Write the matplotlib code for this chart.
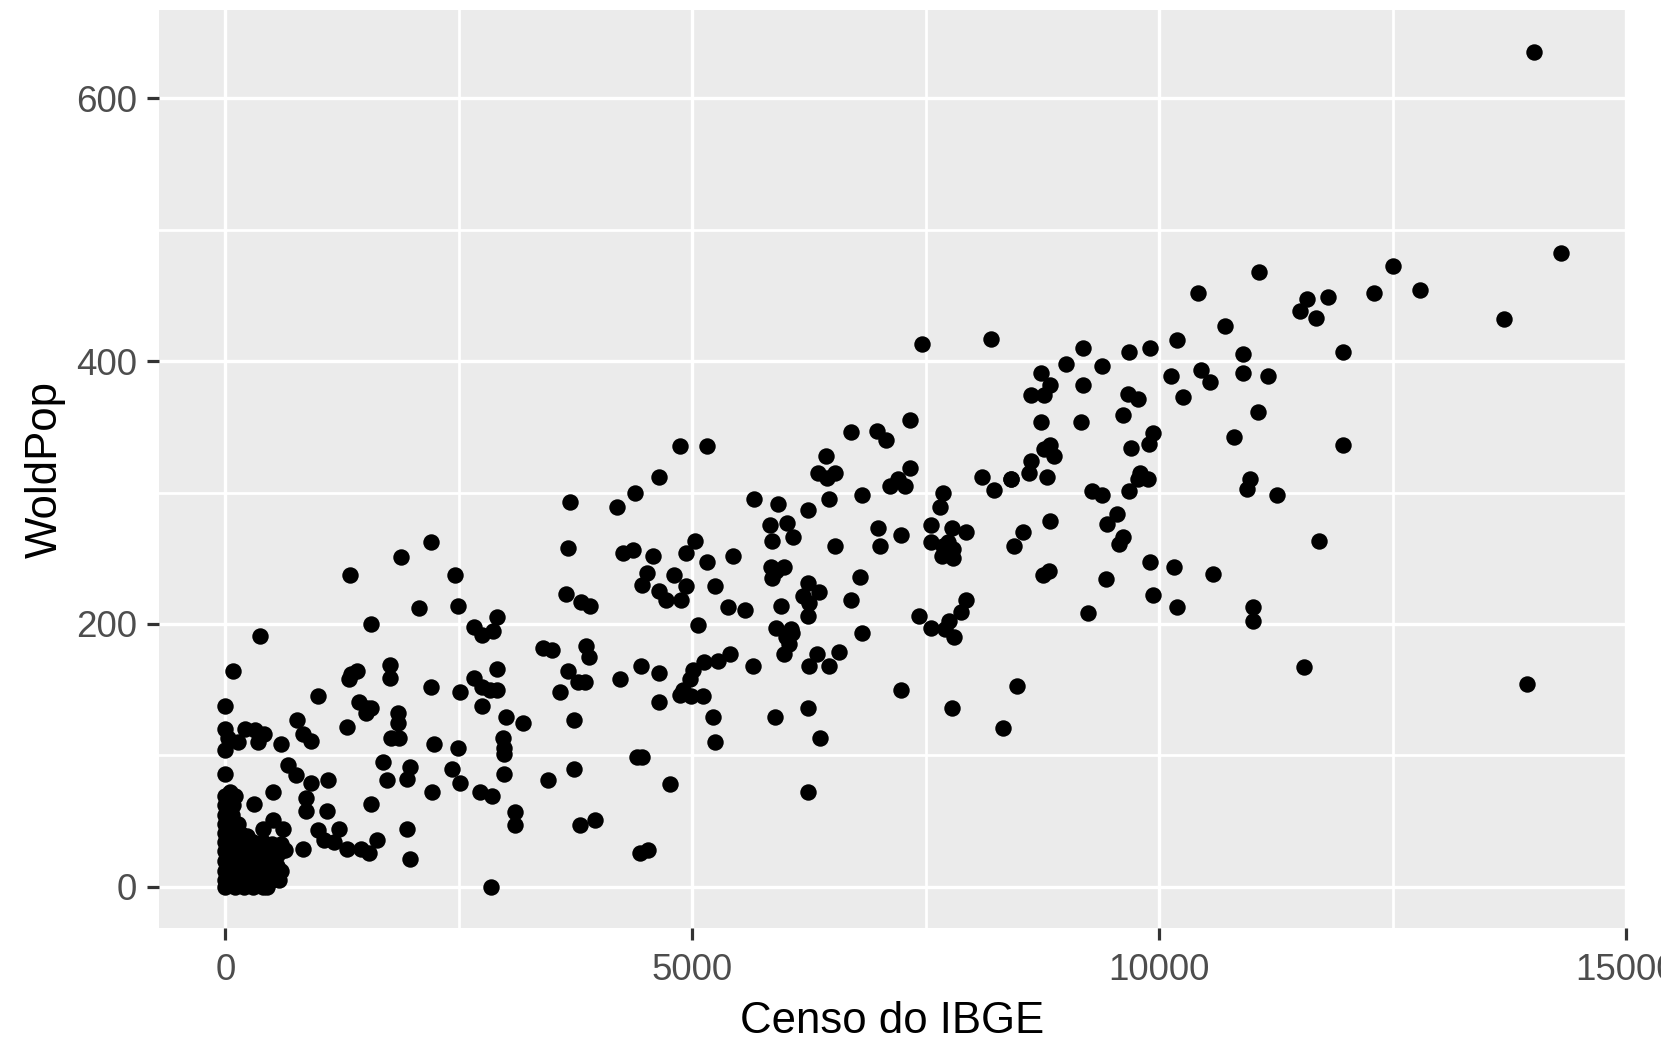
import matplotlib
matplotlib.use("Agg")
import matplotlib.pyplot as plt
import numpy as np

plt.rcParams['font.family'] = ['Liberation Sans', 'DejaVu Sans']

# pontos (Censo do IBGE, WoldPop), por regiao
pts_origem = [
    (0, 0), (100, 0), (200, 0), (300, 0), (400, 0), (450, 0),
    (0, 5), (100, 5), (200, 5), (300, 5), (400, 5), (500, 5), (580, 5),
    (50, 8), (150, 8), (250, 8), (350, 8), (450, 8), (550, 8),
    (0, 12), (100, 12), (200, 12), (300, 12), (400, 12), (500, 12), (600, 12),
    (50, 16), (150, 16), (250, 16), (350, 16), (450, 16), (550, 16),
    (0, 20), (100, 20), (200, 20), (300, 20), (400, 20), (500, 20),
    (50, 24), (150, 24), (250, 24), (350, 24), (450, 24), (550, 24),
    (0, 27), (100, 27), (200, 27), (300, 27), (400, 27), (500, 27), (600, 27), (640, 28),
    (50, 31), (150, 31), (250, 31), (350, 31), (450, 31), (550, 31),
    (0, 34), (100, 34), (200, 34), (300, 34), (400, 34), (500, 33), (600, 33),
    (40, 38), (120, 38), (0, 41), (80, 41), (160, 41), (230, 39),
    (40, 45), (0, 48), (80, 48), (140, 48), (40, 52),
    (0, 55), (70, 55), (40, 59), (0, 62), (80, 62), (40, 66), (0, 69), (100, 69), (50, 72),
    (0, 86), (0, 104), (28, 113), (0, 120), (0, 138), (85, 164),
]

pts_ate_4000 = [
    (3690, 293), (3671, 258), (2203, 262), (1884, 251), (1336, 237), (2463, 237),
    (2076, 212), (2491, 214), (1564, 200), (370, 191), (3646, 223), (3813, 217),
    (3902, 214), (2658, 198), (2747, 192), (2907, 205), (2872, 195), (3405, 182),
    (3494, 180), (3867, 183), (3895, 175), (1350, 162), (1407, 164), (1326, 158),
    (1759, 169), (1759, 159), (2203, 152), (2516, 148), (2658, 159), (2907, 166),
    (2747, 152), (2836, 150), (2907, 150), (2747, 138), (3671, 164), (3778, 156),
    (3849, 156), (3583, 148), (988, 145), (1432, 141), (1521, 136), (1564, 136),
    (1503, 132), (1848, 132), (1848, 125), (3003, 129), (3191, 125), (3735, 127),
    (768, 127), (206, 120), (313, 119), (419, 116), (135, 110), (348, 110),
    (597, 109), (828, 116), (917, 111), (1308, 122), (1770, 113), (1859, 113),
    (2232, 109), (2491, 106), (2978, 113), (2989, 106), (2989, 101), (668, 93),
    (757, 85), (917, 79), (1095, 81), (1692, 95), (1734, 81), (1983, 91),
    (1947, 82), (2427, 90), (2516, 79), (2729, 72), (2854, 69), (2989, 86),
    (3458, 81), (3735, 90), (2214, 72), (3103, 57), (3103, 47), (3796, 47),
    (3956, 51), (508, 72), (306, 63), (864, 68), (864, 58), (1084, 58),
    (1564, 63), (508, 51), (402, 44), (615, 44), (988, 43), (1219, 44),
    (1947, 44), (1059, 36), (1166, 34), (1308, 29), (1450, 29), (1539, 26),
    (1628, 36), (828, 29), (1983, 21), (2847, 0),
]

pts_4000_8000 = [
    (7337, 355), (6699, 346), (6982, 347), (7074, 340), (4865, 335), (5156, 335),
    (6433, 328), (4642, 312), (6348, 315), (6444, 311), (6532, 315), (7337, 319),
    (7206, 310), (7117, 305), (7277, 305), (4387, 300), (4199, 289), (5663, 295),
    (5918, 291), (6238, 287), (6468, 295), (6823, 298), (7684, 300), (7656, 289),
    (5830, 275), (6018, 277), (5858, 263), (6079, 266), (6986, 273), (7235, 268),
    (7011, 259), (6532, 259), (7560, 275), (7780, 273), (7933, 270), (7560, 262),
    (7684, 259), (7791, 257), (7670, 252), (7791, 250), (7720, 255), (7740, 262),
    (4263, 254), (4369, 256), (4582, 252), (5025, 263), (4936, 254), (5156, 247),
    (5440, 252), (4511, 239), (4458, 230), (4801, 237), (4929, 229), (4642, 225),
    (4723, 218), (4883, 218), (5248, 229), (5379, 213), (5567, 211), (5840, 243),
    (5982, 243), (5858, 235), (5900, 240), (6798, 236), (6241, 231), (6355, 224),
    (6184, 221), (6248, 216), (6241, 206), (5954, 214), (6699, 218), (5060, 199),
    (5894, 197), (6071, 193), (6054, 196), (6000, 190), (6036, 185), (5982, 177),
    (6823, 193), (7427, 206), (7560, 197), (7808, 190), (7933, 218), (7880, 209),
    (7755, 202), (7702, 196), (4457, 168), (4645, 163), (4227, 158), (5007, 165),
    (5131, 171), (5280, 172), (5404, 177), (5649, 168), (4972, 158), (4901, 150),
    (4865, 146), (4989, 145), (5120, 145), (4642, 141), (6337, 177), (6568, 179),
    (6248, 168), (6461, 168), (7235, 150), (7780, 136), (5220, 129), (5887, 129),
    (6238, 136), (5248, 110), (6372, 113), (4405, 99), (4458, 99), (4762, 78),
    (6238, 72), (4445, 26), (4526, 28), (7464, 413),
]

pts_acima_8000 = [
    (8103, 312), (8227, 302), (8418, 310), (8198, 417),
    (9188, 410), (9673, 407), (9903, 410), (10190, 416), (10902, 405), (11972, 407),
    (8998, 398), (9386, 396), (8739, 391), (8829, 382), (8631, 374), (8772, 374),
    (9188, 382), (9670, 375), (9770, 371), (10129, 389), (10453, 393), (10550, 384),
    (10902, 391), (11164, 389), (10259, 373), (8739, 354), (9159, 354), (9612, 359),
    (11063, 361), (9932, 345), (9896, 337), (10805, 342), (11972, 336), (8829, 336),
    (8764, 333), (8872, 328), (8631, 324), (8603, 315), (8800, 312), (8414, 310),
    (9702, 334), (9795, 315), (9878, 310), (9770, 310), (9673, 301), (9285, 301),
    (9393, 298), (10973, 310), (10937, 303), (11261, 298), (9544, 284), (9447, 276),
    (9609, 266), (9573, 261), (8836, 278), (8542, 270), (8449, 259), (11710, 263),
    (8818, 240), (8757, 237), (9433, 234), (9903, 247), (10158, 243), (10578, 238),
    (9932, 222), (10190, 213), (9242, 208), (11002, 213), (11002, 202), (11548, 167),
    (8477, 153), (8326, 121),
    (11067, 468), (10420, 452), (11584, 447), (11513, 438), (11681, 433), (11807, 449),
    (12303, 452), (12500, 472), (12795, 454), (10711, 427),
    (14013, 635), (14301, 482), (13693, 432), (13941, 154),
]

x_ticks = [0, 5000, 10000, 15000]
x_labels = ['0', '5000', '10000', '15000']
y_ticks = [0, 200, 400, 600]
y_labels = ['0', '200', '400', '600']

dados = np.array(pts_origem + pts_ate_4000 + pts_4000_8000 + pts_acima_8000, dtype=float)

fig = plt.figure(figsize=(16.61, 10.42), dpi=100)
ax = fig.add_axes([159 / 1661, 1 - 927.7 / 1042, 1467 / 1661, 917.7 / 1042])
ax.set_facecolor('#EBEBEB')

ax.scatter(dados[:, 0], dados[:, 1], s=140, c='black', linewidths=0, zorder=3)

ax.set_xlim(-710, 14990)
ax.set_ylim(-31, 667)
ax.set_xticks(x_ticks)
ax.set_xticklabels(x_labels)
ax.set_yticks(y_ticks)
ax.set_yticklabels(y_labels)
ax.set_xticks([2500, 7500, 12500], minor=True)
ax.set_yticks([100, 300, 500], minor=True)

ax.grid(which='major', color='white', linewidth=2.4, zorder=0)
ax.grid(which='minor', color='white', linewidth=2.0, zorder=0)
ax.set_axisbelow(True)
for s in ax.spines.values():
    s.set_visible(False)

ax.tick_params(which='major', direction='out', length=8.9, width=2.3, color='#333333',
               labelcolor='#4D4D4D', labelsize=26.5)
ax.tick_params(axis='x', which='major', pad=9)
ax.tick_params(axis='y', which='major', pad=7)
ax.tick_params(which='minor', length=0)

fig.text(892.5 / 1661, 1 - 1033 / 1042, 'Censo do IBGE', ha='center', va='baseline',
         fontsize=31.5, color='black')
fig.text(45 / 1661, 1 - 469 / 1042, 'WoldPop', ha='center', va='center', rotation=90,
         fontsize=31.5, color='black')

fig.savefig('out.png', dpi=100)
